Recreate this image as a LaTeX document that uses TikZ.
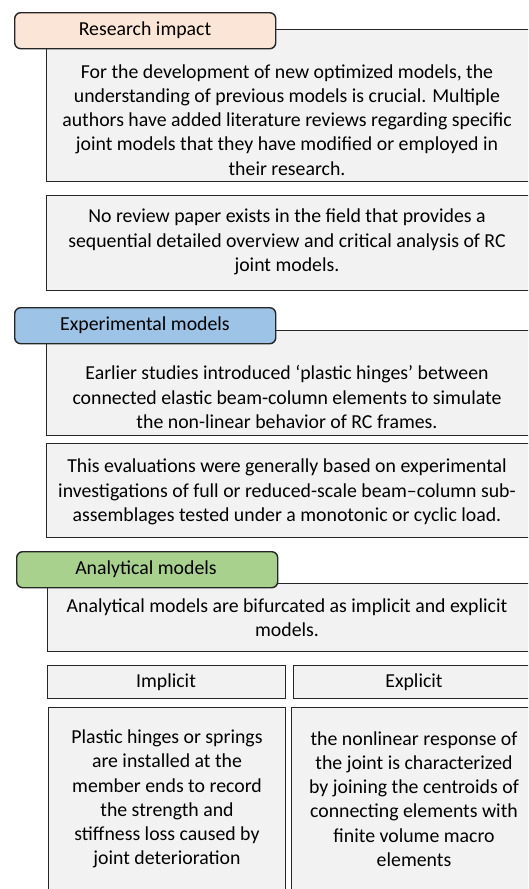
\documentclass[tikz,border=0pt]{standalone}
\usepackage{fontspec}
\setmainfont{Carlito}
\definecolor{peach}{HTML}{FBE5D6}
\definecolor{tabblue}{HTML}{9DC3E6}
\definecolor{tabgreen}{HTML}{A9D18E}
\definecolor{boxfill}{HTML}{F2F2F2}
\definecolor{edge}{HTML}{262626}
\begin{document}
\begin{tikzpicture}[x=1pt,y=-1pt,
  box/.style={draw=edge, line width=1.4pt, fill=boxfill, anchor=north west, inner sep=0pt},
  tab/.style={draw=edge, line width=1.4pt, rounded corners=6pt, anchor=north west, inner sep=0pt,
    minimum width=261pt, minimum height=36pt},
  txt/.style={align=center, inner sep=0pt, font=\fontsize{19.8}{24.2}\selectfont, text=black},
  lbl/.style={inner sep=0pt, font=\fontsize{19.8}{24.2}\selectfont, text=black}]
\useasboundingbox (0,0) rectangle (528,889);
\clip (0,0) rectangle (528,889);
\fill[white] (0,0) rectangle (528,889);

% Research impact
\node[box, minimum width=489pt, minimum height=152pt] (b1) at (46,29) {};
\node[tab, fill=peach] (t1) at (14,12) {};
\node[lbl] (t1l) at (145,30) {Research impact};
\node[txt] (b1t) at (287,120) {For the development of new optimized models, the\\
understanding of previous models is crucial. Multiple\\
authors have added literature reviews regarding specific\\
joint models that they have modified or employed in\\
their research.};

\node[box, minimum width=489pt, minimum height=95pt] (b2) at (46,195) {};
\node[txt] (b2t) at (287,242) {No review paper exists in the field that provides a\\
sequential detailed overview and critical analysis of RC\\
joint models.};

% Experimental models
\node[box, minimum width=489pt, minimum height=105pt] (b3) at (46,330) {};
\node[tab, fill=tabblue] (t2) at (14,307) {};
\node[lbl] (t2l) at (145,325) {Experimental models};
\node[txt] (b3t) at (287,397) {Earlier studies introduced ‘plastic hinges’ between\\
connected elastic beam-column elements to simulate\\
the non-linear behavior of RC frames.};

\node[box, minimum width=489pt, minimum height=94pt] (b4) at (46,443) {};
\node[txt] (b4t) at (287,492) {This evaluations were generally based on experimental\\
investigations of full or reduced-scale beam–column sub-\\
assemblages tested under a monotonic or cyclic load.};

% Analytical models
\node[box, minimum width=488pt, minimum height=68pt] (b5) at (47,583) {};
\node[tab, fill=tabgreen] (t3) at (16,551) {};
\node[lbl] (t3l) at (146,569) {Analytical models};
\node[txt] (b5t) at (287,618) {Analytical models are bifurcated as implicit and explicit\\
models.};

\node[box, minimum width=238pt, minimum height=33pt] (ih) at (47,665) {};
\node[lbl] (ihl) at (166,682) {Implicit};
\node[box, minimum width=242pt, minimum height=33pt] (eh) at (293,665) {};
\node[lbl] (ehl) at (414,682) {Explicit};

\node[box, minimum width=237pt, minimum height=200pt] (ib) at (48,707) {};
\node[txt] (ibt) at (167,799) {Plastic hinges or springs\\
are installed at the\\
member ends to record\\
the strength and\\
stiffness loss caused by\\
joint deterioration};
\node[box, minimum width=244pt, minimum height=200pt] (eb) at (291,707) {};
\node[txt] (ebt) at (414,799) {the nonlinear response of\\
the joint is characterized\\
by joining the centroids of\\
connecting elements with\\
finite volume macro\\
elements};
\end{tikzpicture}
\end{document}
